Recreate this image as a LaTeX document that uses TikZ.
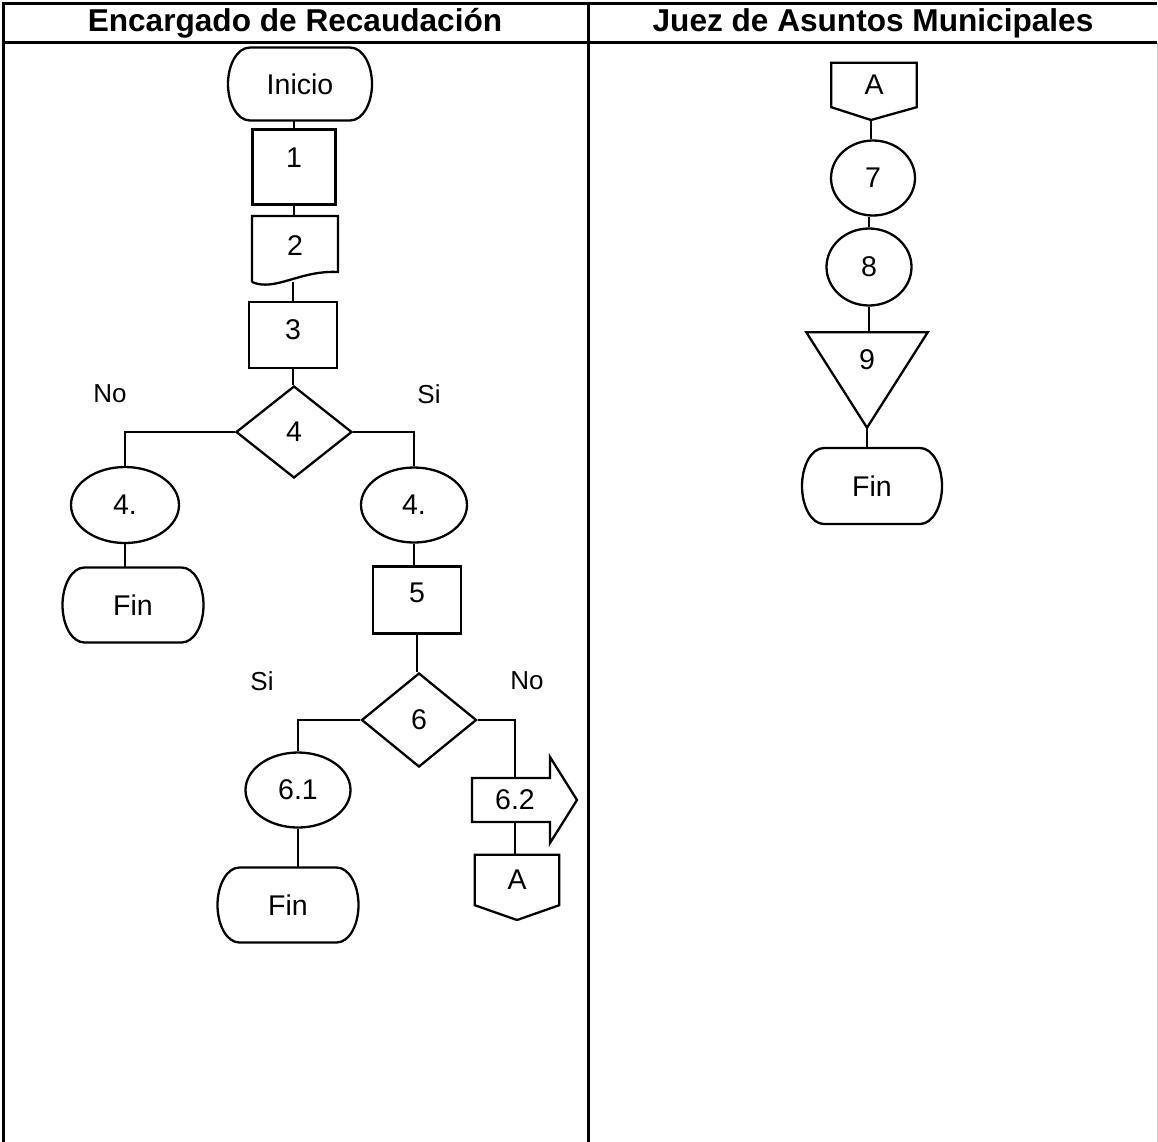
\documentclass[tikz,border=0pt]{standalone}
\usepackage{fontspec}
\setmainfont{Liberation Sans}
\usetikzlibrary{shapes.geometric}

% terminal outline: flat top and bottom, rounded bulging ends
% #1 node name, #2 half width, #3 half height
\newcommand\termshape[3]{%
  \draw[outline, shift={(#1.center)}]
    (-#2+22,-#3) -- (#2-22,-#3)
    .. controls (#2-9,-#3) and (#2,-#3*0.52) .. (#2,0)
    .. controls (#2,#3*0.52) and (#2-9,#3) .. (#2-22,#3)
    -- (-#2+22,#3)
    .. controls (-#2+9,#3) and (-#2,#3*0.52) .. (-#2,0)
    .. controls (-#2,-#3*0.52) and (-#2+9,-#3) .. cycle;}

\begin{document}
\begin{tikzpicture}[x=1pt,y=-1pt,
  every node/.style={font=\fontsize{28.5}{34}\selectfont, inner sep=0pt},
  outline/.style={draw, line width=2.3pt},
  link/.style={draw, line width=2.2pt},
  frame/.style={draw, line width=3pt},
  hdr/.style={font=\bfseries\fontsize{31.6}{38}\selectfont},
  lbl/.style={font=\fontsize{26}{30}\selectfont},
  proc/.style={outline, rectangle},
  oval/.style={outline, ellipse},
  decide/.style={outline, diamond, aspect=1.27, minimum width=116pt, minimum height=92pt},
  blank/.style={rectangle, draw=none}
]
\useasboundingbox (0,0) rectangle (1158,1141);

% table frame
\draw[frame] (3,1145) -- (3,3) -- (1157,3);
\draw[frame] (3,42) -- (1157,42);
\draw[frame] (588,3) -- (588,1145);
\draw[draw=black!20, line width=1pt] (1157.5,42) -- (1157.5,1145);
\node[hdr] (h1) at (295,23) {Encargado de Recaudación};
\node[hdr] (h2) at (873,23) {Juez de Asuntos Municipales};

% ---------- left lane ----------
\node[blank, minimum width=144pt, minimum height=73pt] (inicio) at (300,84) {Inicio};
\termshape{inicio}{72}{36.5}
\node[proc, minimum width=83pt, minimum height=75pt, text depth=18pt] (p1) at (294,167) {1};
\node[blank, minimum width=86pt, minimum height=66pt, text depth=7pt] (p2) at (295,249) {2};
\draw[outline] (252,282) -- (252,216) -- (338,216) -- (338,272)
   .. controls (300,270) and (275,292) .. (252,282);
\node[proc, minimum width=88pt, minimum height=66pt, text depth=10pt] (p3) at (293,335) {3};
\node[decide] (d4) at (294,432) {4};

\node[oval, minimum width=108pt, minimum height=76pt] (e4l) at (125,505) {4.};
\node[blank, minimum width=141pt, minimum height=75pt] (finl) at (133,605) {Fin};
\termshape{finl}{70.5}{37.5}
\node[oval, minimum width=106pt, minimum height=75pt] (e4r) at (414,505) {4.};
\node[proc, minimum width=88pt, minimum height=67pt, text depth=14pt] (p5) at (417,600) {5};
\node[decide, minimum height=94pt, minimum width=115pt] (d6) at (419,720) {6};

\node[oval, minimum width=105pt, minimum height=75pt] (e61) at (298,790) {6.1};
\node[blank, minimum width=141pt, minimum height=75pt] (fin61) at (288,905) {Fin};
\termshape{fin61}{70.5}{37.5}

% thick arrow 6.2
\node[blank, minimum width=86pt, minimum height=44pt, text depth=-4pt] (a62) at (515,800) {6.2};
\draw[outline, shift={(a62.center)}] (-43,-22) -- (35,-22) -- (35,-43) -- (62,0)
   -- (35,43) -- (35,22) -- (-43,22) -- cycle;

% off-page connector A (left lane)
\node[blank, minimum width=84pt, minimum height=50pt] (oa1) at (517,880) {A};
\draw[outline] (oa1.south west) -- (oa1.north west) -- (oa1.north east)
   -- (oa1.south east) -- (517,920) -- cycle;

% branch labels
\node[lbl] (no4) at (110,394) {No};
\node[lbl] (si4) at (429,394) {Si};
\node[lbl] (si6) at (262,681) {Si};
\node[lbl] (no6) at (527,681) {No};

% left lane connectors
\draw[link] (p1.north) -- (p1.north |- inicio.south);
\draw[link] (p1.south) -- (p1.south |- p2.north);
\draw[link] (p3.north) -- (p3.north |- p2.south);
\draw[link] (p3.south) -- (p3.south |- d4.north);
\draw[link] (d4.west) -| (e4l.north);
\draw[link] (e4l.south) -- (e4l.south |- finl.north);
\draw[link] (d4.east) -| (e4r.north);
\draw[link] (e4r.south) -- (e4r.south |- p5.north);
\draw[link] (p5.south) -- (p5.south |- d6.north);
\draw[link] (d6.west) -| (e61.north);
\draw[link] (e61.south) -- (e61.south |- fin61.north);
\draw[link] (d6.east) -| (a62.north);
\draw[link] (a62.south) -- (a62.south |- oa1.north);

% ---------- right lane ----------
\node[blank, minimum width=85pt, minimum height=44pt] (oa2) at (874,85) {A};
\coordinate (oa2tip) at (871,120);
\draw[outline] (oa2.south west) -- (oa2.north west) -- (oa2.north east)
   -- (oa2.south east) -- (oa2tip) -- cycle;
\node[oval, minimum width=84pt, minimum height=75pt] (e7) at (873,178) {7};
\node[oval, minimum width=85pt, minimum height=77pt] (e8) at (869,267) {8};
\node[blank, minimum width=121pt, minimum height=95pt, text depth=40pt] (t9) at (867,380) {9};
\draw[outline] (t9.north west) -- (t9.north east) -- (t9.south) -- cycle;
\node[blank, minimum width=140pt, minimum height=76pt] (fin9) at (872,486) {Fin};
\termshape{fin9}{70}{38}

\draw[link] (oa2tip) -- (oa2tip |- e7.north);
\draw[link] (e8.north) -- (e8.north |- e7.south);
\draw[link] (e8.south) -- (e8.south |- t9.north);
\draw[link] (t9.south) -- (t9.south |- fin9.north);
\end{tikzpicture}
\end{document}
